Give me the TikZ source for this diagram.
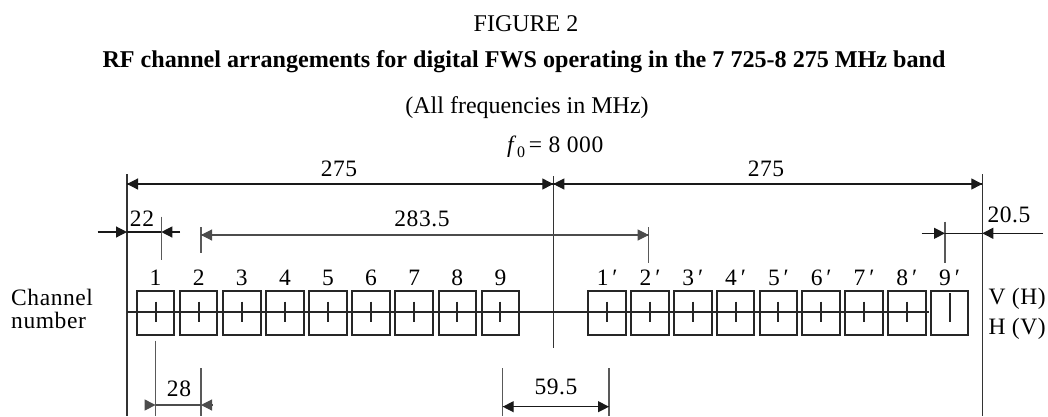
\documentclass[tikz,border=0pt]{standalone}
\usepackage{fontspec}
\setmainfont{Liberation Serif}
\newfontfamily\labfont[LetterSpace=2.5]{Liberation Serif}
\usetikzlibrary{arrows.meta}
\begin{document}
\begin{tikzpicture}[x=1pt,y=-1pt,
  lab/.style={font=\labfont\fontsize{23.5}{28}\selectfont, inner sep=0pt},
  ttl/.style={font=\fontsize{24}{28}\selectfont, inner sep=0pt, anchor=base},
  ext/.style={line width=1.2pt, draw=black!80},
  extl/.style={line width=1.1pt, draw=black!65},
  dimk/.style={line width=1.2pt, draw=black!90},
  diml/.style={line width=1.1pt, draw=black!70},
  tip/.style={-{Triangle[length=11pt,width=11pt]}},
  chbox/.style={draw=black!85, line width=2pt, minimum width=37.5pt, minimum height=44.5pt, inner sep=0pt},
  chtick/.style={line width=2.1pt, draw=black!85},
]
\useasboundingbox (0,0) rectangle (1048,416);

% titles
\node[ttl] (fig) at (526,31) {FIGURE 2};
\node[ttl, font=\fontsize{24.1}{28}\selectfont\bfseries] (title) at (524,67) {RF channel arrangements for digital FWS operating in the 7 725-8 275 MHz band};
\node[ttl] (allf) at (527,113) {(All frequencies in MHz)};
\node[lab, anchor=base west] (f0) at (507,152) {\textit{f}\raisebox{-5pt}{\fontsize{16}{16}\selectfont 0}\,= 8 000};

% main reference coordinates
\coordinate (Ltop) at (127,174);
\coordinate (Lbot) at (127,416);
\coordinate (Ctop) at (553.3,176);
\coordinate (Cbot) at (553.3,348);
\coordinate (Rtop) at (982.3,174);
\coordinate (Rbot) at (982.3,416);
\draw[ext] (Ltop) -- (Lbot);
\draw[ext] (Ctop) -- (Cbot);
\draw[ext] (Rtop) -- (Rbot);

% 275 arrows
\coordinate (a1) at (127,184);
\coordinate (a2) at (553.3,184);
\coordinate (a3) at (982.3,184);
\draw[dimk, tip] (a2) -- (a1);
\draw[dimk, tip] (a1) -- (a2);
\draw[dimk, tip] (a3) -- (a2);
\draw[dimk, tip] (a2) -- (a3);
\node[lab, anchor=base] (t275a) at (339,176.7) {275};
\node[lab, anchor=base] (t275b) at (766,176.7) {275};

% 22
\coordinate (b0) at (97.7,232);
\coordinate (b1) at (127,232);
\coordinate (b2) at (161.3,232);
\coordinate (b3) at (180,232);
\coordinate (b2t) at (161.3,216.7);
\coordinate (b2b) at (161.3,260);
\draw[extl] (b2t) -- (b2b);
\draw[dimk, tip] (b0) -- (b1);
\draw[dimk] (b1) -- (b2);
\draw[dimk, tip] (b3) -- (b2);
\node[lab, anchor=base] (t22) at (142,226.7) {22};

% 283.5
\coordinate (c1) at (201,235);
\coordinate (c2) at (648.7,235);
\coordinate (c1t) at (201,227);
\coordinate (c1b) at (201,253);
\coordinate (c2t) at (648.7,227);
\coordinate (c2b) at (648.7,263);
\draw[extl] (c1t) -- (c1b);
\draw[extl] (c2t) -- (c2b);
\draw[diml, tip] (c2) -- (c1);
\draw[diml, tip] (c1) -- (c2);
\node[lab, anchor=base] (t2835) at (422,226.7) {283.5};

% 20.5
\coordinate (d0) at (921.7,233.3);
\coordinate (d1) at (945,233.3);
\coordinate (d2) at (982.3,233.3);
\coordinate (d3) at (1043,233.3);
\coordinate (d1t) at (945,221.7);
\coordinate (d1b) at (945,263);
\draw[extl] (d1t) -- (d1b);
\draw[dimk, tip] (d0) -- (d1);
\draw[dimk] (d1) -- (d2);
\draw[dimk, tip] (d3) -- (d2);
\node[lab, anchor=base] (t205) at (1009,222.7) {20.5};

% channel line
\coordinate (hl) at (127,311.7);
\coordinate (hr) at (929.3,311.7);
\draw[line width=2pt, draw=black!85] (hl) -- (hr);

% channel boxes, left
\foreach \i in {1,...,9}{
  \pgfmathsetmacro{\cx}{155.6+43.1*(\i-1)}
  \node[chbox] (ch\i) at (\cx,313) {};
  \draw[chtick] (\cx,301.7) -- (\cx,321.7);
  \node[lab, anchor=base] (n\i) at (\cx,285) {\i};
}
% channel boxes, right
\foreach \i in {1,...,9}{
  \pgfmathsetmacro{\cx}{607.2+42.8*(\i-1)}
  \node[chbox] (chp\i) at (\cx,313) {};
  \node[lab, anchor=base] (np\i) at (\cx,285) {\i\,′};
}
\foreach \i in {1,...,8}{
  \pgfmathsetmacro{\cx}{607.2+42.8*(\i-1)}
  \draw[chtick] (\cx,301.7) -- (\cx,321.7);
}
\draw[chtick] (chp9.center) ++(0,-19.7) -- ++(0,28.4);

\node[lab, anchor=base west] (chn) at (11,305) {Channel};
\node[lab, anchor=base west] (chn2) at (11,328.3) {number};
\node[lab, anchor=base west] (vh) at (988.3,304) {V (H)};
\node[lab, anchor=base west] (hv) at (988.3,334) {H (V)};

% 28
\coordinate (e1t) at (155.6,340.7);
\coordinate (e1b) at (155.6,416);
\coordinate (e2t) at (201,368);
\coordinate (e2b) at (201,416);
\draw[extl] (e1t) -- (e1b);
\draw[extl] (e2t) -- (e2b);
\coordinate (e0) at (145,405);
\coordinate (e1) at (155.6,405);
\coordinate (e2) at (201,405);
\coordinate (e3) at (211.7,405);
\draw[diml, tip] (e0) -- (e1);
\draw[diml] (e1) -- (e2);
\draw[diml, tip] (e3) -- (e2);
\node[lab, anchor=base] (t28) at (179,396.7) {28};

% 59.5
\coordinate (g1t) at (502.7,368);
\coordinate (g1b) at (502.7,416);
\coordinate (g2t) at (609,368);
\coordinate (g2b) at (609,416);
\draw[extl] (g1t) -- (g1b);
\draw[extl] (g2t) -- (g2b);
\coordinate (g1) at (502.7,406.7);
\coordinate (g2) at (609,406.7);
\draw[dimk, tip] (g2) -- (g1);
\draw[dimk, tip] (g1) -- (g2);
\node[lab, anchor=base] (t595) at (556,394) {59.5};
\end{tikzpicture}
\end{document}
